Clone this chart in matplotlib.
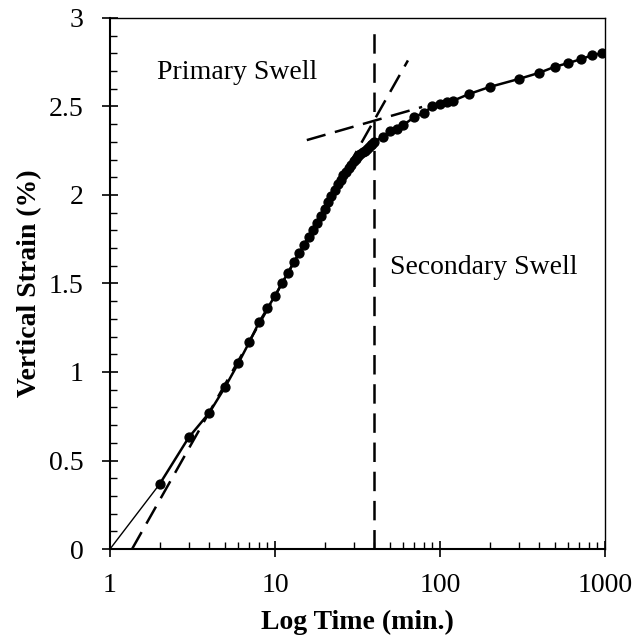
import matplotlib
matplotlib.use("Agg")
import matplotlib.pyplot as plt
from matplotlib.ticker import FixedLocator, NullFormatter, MultipleLocator

plt.rcParams['font.family'] = ['Liberation Serif', 'DejaVu Serif']
plt.rcParams['lines.scale_dashes'] = False

# Measured swell data: time (min) and vertical strain (%)
time_min = [1, 2, 3, 4, 5, 6, 7, 8, 9, 10, 11, 12, 13, 14, 15, 16, 17, 18, 19, 20,
            21, 22, 23, 24, 25, 26, 27, 28, 29, 30, 31, 32, 33, 34, 35, 36, 37, 38, 39, 40,
            45, 50, 55, 60, 70, 80, 90, 100, 110, 120, 150, 200, 300, 400, 500, 600,
            720, 840, 960]
strain_pct = [0.0, 0.367, 0.63, 0.77, 0.917, 1.05, 1.17, 1.28, 1.36, 1.43, 1.50, 1.56,
              1.62, 1.67, 1.72, 1.76, 1.80, 1.84, 1.88, 1.92,
              1.96, 1.995, 2.03, 2.06, 2.085, 2.11, 2.13, 2.15, 2.17, 2.19,
              2.205, 2.22, 2.23, 2.24, 2.25, 2.26, 2.27, 2.28, 2.29, 2.30,
              2.33, 2.36, 2.375, 2.395, 2.44, 2.465, 2.50, 2.515, 2.527, 2.532,
              2.57, 2.61, 2.655, 2.69, 2.725, 2.745, 2.768, 2.79, 2.80]

# Construction lines (Casagrande-type tangents)
primary_x = [1.36, 64]
primary_y = [0.0, 2.76]
secondary_x = [15.6, 78]
secondary_y = [2.31, 2.497]
eop_x = [40, 40]
eop_y = [0.0, 2.95]

x_ticks = [1, 10, 100, 1000]
x_ticklabels = ['1', '10', '100', '1000']
y_ticks = [0, 0.5, 1, 1.5, 2, 2.5, 3]
y_ticklabels = ['0', '0.5', '1', '1.5', '2', '2.5', '3']

fig = plt.figure(figsize=(6.36, 6.41), dpi=100)
ax = fig.add_axes([0.173, 0.1435, 0.778, 0.8285])

# thin line from origin to first point, thicker data line afterwards
ax.plot(time_min[:2], strain_pct[:2], color='black', lw=1.0, zorder=3)
ax.plot(time_min[1:], strain_pct[1:], color='black', lw=1.8, marker='o', ms=6.4, zorder=3)
ax.plot(primary_x, primary_y, color='black', lw=1.8, dashes=(14, 7), zorder=2)
ax.plot(secondary_x, secondary_y, color='black', lw=1.8, dashes=(14, 7), zorder=2)
ax.plot(eop_x, eop_y, color='black', lw=1.8, dashes=(14, 7), zorder=2)

ax.text(1.93, 2.69, 'Primary Swell', fontsize=20, va='center', ha='left')
ax.text(49.5, 1.59, 'Secondary Swell', fontsize=20, va='center', ha='left')

ax.set_xscale('log')
ax.set_xlim(1, 1000)
ax.set_ylim(0, 3)
ax.xaxis.set_major_locator(FixedLocator(x_ticks))
ax.set_xticklabels(x_ticklabels)
ax.xaxis.set_minor_locator(FixedLocator([m * 10 ** e for e in range(0, 3) for m in range(2, 10)]))
ax.xaxis.set_minor_formatter(NullFormatter())
ax.yaxis.set_major_locator(FixedLocator(y_ticks))
ax.set_yticklabels(y_ticklabels)
ax.yaxis.set_minor_locator(MultipleLocator(0.1))

ax.tick_params(which='major', direction='inout', length=12, width=1.2, labelsize=20)
ax.tick_params(axis='x', which='major', pad=11)
ax.tick_params(axis='y', which='major', pad=13)
ax.tick_params(which='minor', direction='in', length=5, width=1.0)
ax.tick_params(top=False, right=False, which='both')

for s in ['left', 'bottom']:
    ax.spines[s].set_linewidth(1.5)
for s in ['top', 'right']:
    ax.spines[s].set_linewidth(1.0)

ax.set_xlabel('Log Time (min.)', fontsize=20, fontweight='bold', labelpad=9)
ax.set_ylabel('Vertical Strain (%)', fontsize=20, fontweight='bold', labelpad=5)

fig.savefig('out.png', dpi=100)
